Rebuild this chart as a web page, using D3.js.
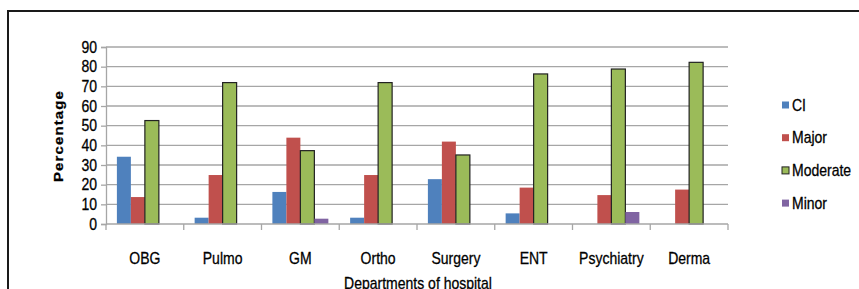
<!DOCTYPE html>
<html lang="en">
<meta charset="utf-8" />
<style>
    body { margin: 0; background: #fff; }
    text { font-family: Arial, "Liberation Sans", sans-serif; fill: #000; stroke: #000; stroke-width: 0.25px; }
</style>
<body>
<svg width="859" height="289"></svg>
<script src="https://d3js.org/d3.v7.min.js"></script>
<script>
    // data
    var departments = ["OBG", "Pulmo", "GM", "Ortho", "Surgery", "ENT", "Psychiatry", "Derma"]
    var series = ["CI", "Major", "Moderate", "Minor"]
    var ci = [34.2, 3.2, 16.3, 3.2, 22.8, 5.4, 0, 0]
    var major = [13.7, 24.9, 43.9, 24.9, 41.9, 18.5, 14.7, 17.5]
    var moderate = [52.6, 71.9, 37.3, 71.9, 35.1, 76.3, 78.8, 82.2]
    var minor = [0, 0, 2.7, 0, 0, 0, 6.1, 0]
    var yTicks = [0, 10, 20, 30, 40, 50, 60, 70, 80, 90]

    var colors = {CI: "#4F81BD", Major: "#C0504D", Moderate: "#9BBB59", Minor: "#8064A2"}
    var values = {CI: ci, Major: major, Moderate: moderate, Minor: minor}

    // the source picture is a bit stretched vertically, so text is too
    var stretch = "scale(1,1.15)"

    var svg = d3.select("svg")

    // outer frame
    svg.append("rect")
        .attr("x", 8).attr("y", 11)
        .attr("width", 900).attr("height", 320)
        .attr("fill", "none")
        .attr("stroke", "#1a1a1a")
        .attr("stroke-width", 2)

    var x0 = d3.scaleBand().domain(departments).range([106, 728])
    var x1 = d3.scaleBand().domain(series)
        .range([x0.bandwidth() * 0.14, x0.bandwidth() * 0.86])
    var y = d3.scaleLinear().domain([0, 90]).range([224, 47])

    // gridlines
    svg.append("g")
        .selectAll("line")
        .data(yTicks.slice(1))
        .enter()
        .append("line")
        .attr("x1", 106).attr("x2", 728)
        .attr("y1", d => y(d)).attr("y2", d => y(d))
        .attr("stroke", "#a6a6a6")
        .attr("stroke-width", 1.3)

    // y axis
    var yAxis = svg.append("g")
        .attr("transform", "translate(106,0)")
        .call(d3.axisLeft(y).tickValues(yTicks).tickSize(5).tickPadding(4))
    yAxis.select(".domain").attr("stroke", "#a6a6a6").attr("stroke-width", 1.3)
    yAxis.selectAll(".tick line").attr("stroke", "#a6a6a6").attr("stroke-width", 1.3)
    yAxis.selectAll("text")
        .style("font-size", "14px")
        .attr("fill", "#000")
        .attr("transform", stretch)

    // bars
    var rows = departments.map((d, i) => ({dept: d, vals: series.map(s => ({key: s, v: values[s][i]}))}))
    var groups = svg.append("g")
        .selectAll("g")
        .data(rows)
        .enter()
        .append("g")
        .attr("transform", d => "translate(" + x0(d.dept) + ",0)")

    groups.selectAll("rect")
        .data(d => d.vals.filter(e => e.v > 0))
        .enter()
        .append("rect")
        .attr("x", d => x1(d.key))
        .attr("y", d => y(d.v))
        .attr("width", x1.bandwidth())
        .attr("height", d => y(0) - y(d.v))
        .attr("fill", d => colors[d.key])
        .attr("stroke", d => d.key == "Moderate" ? "#222" : "none")
        .attr("stroke-width", 1.2)

    // x axis
    svg.append("line")
        .attr("x1", 106).attr("x2", 728)
        .attr("y1", y(0)).attr("y2", y(0))
        .attr("stroke", "#a6a6a6").attr("stroke-width", 1.3)
    svg.append("g")
        .selectAll("line")
        .data(departments.concat(["end"]))
        .enter()
        .append("line")
        .attr("x1", (d, i) => 106 + i * x0.step())
        .attr("x2", (d, i) => 106 + i * x0.step())
        .attr("y1", y(0)).attr("y2", y(0) + 6)
        .attr("stroke", "#a6a6a6").attr("stroke-width", 1.3)

    svg.append("g")
        .selectAll("text")
        .data(departments)
        .enter()
        .append("text")
        .attr("transform", d => "translate(" + (x0(d) + x0.bandwidth() / 2) + ",258) " + stretch)
        .attr("y", 5)
        .attr("text-anchor", "middle")
        .style("font-size", "14px")
        .text(d => d)

    // axis titles
    svg.append("text")
        .attr("transform", "translate(63,136) " + stretch + " rotate(-90)")
        .attr("text-anchor", "middle")
        .style("font-size", "13px")
        .style("font-weight", "bold")
        .style("letter-spacing", "1px")
        .text("Percentage")

    svg.append("text")
        .attr("transform", "translate(418,283) " + stretch)
        .attr("y", 5)
        .attr("text-anchor", "middle")
        .style("font-size", "14px")
        .text("Departments of hospital")

    // legend
    var legend = svg.append("g")
        .selectAll("g")
        .data(series)
        .enter()
        .append("g")
        .attr("transform", (d, i) => "translate(782," + (105 + i * 32.7) + ")")
    legend.append("rect")
        .attr("x", 0).attr("y", -3.5)
        .attr("width", 7).attr("height", 7)
        .attr("fill", d => colors[d])
        .attr("stroke", d => d == "Moderate" ? "#222" : "none")
    legend.append("text")
        .attr("transform", "translate(10,0) " + stretch)
        .attr("y", 5)
        .style("font-size", "14px")
        .text(d => d)
</script>
</body>
</html>
